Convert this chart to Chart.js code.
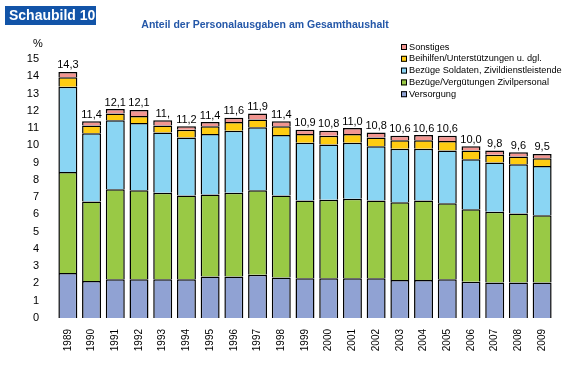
<!DOCTYPE html>
<html>
<head>
<meta charset="utf-8">
<script src="https://cdn.jsdelivr.net/npm/chart.js@4.4.1/dist/chart.umd.min.js"></script>
<style>
    body { margin: 0; background: #fff; }
</style>
</head>
<body>
<canvas id="personal_graph" width="579" height="367"></canvas>
<script>
const years = ['1989', '1990', '1991', '1992', '1993', '1994', '1995', '1996', '1997', '1998', '1999',
    '2000', '2001', '2002', '2003', '2004', '2005', '2006', '2007', '2008', '2009'];
const versorgung = [2.6, 2.15, 2.25, 2.25, 2.25, 2.25, 2.4, 2.4, 2.5, 2.35, 2.3, 2.3, 2.3, 2.3, 2.2, 2.2, 2.25, 2.1, 2.05, 2.05, 2.05];
const zivilpersonal = [5.85, 4.6, 5.2, 5.15, 5.0, 4.85, 4.75, 4.85, 4.9, 4.75, 4.5, 4.55, 4.6, 4.5, 4.5, 4.6, 4.4, 4.2, 4.1, 4.0, 3.9];
const soldaten = [4.95, 3.95, 4.0, 3.9, 3.5, 3.35, 3.5, 3.6, 3.65, 3.5, 3.35, 3.2, 3.25, 3.15, 3.1, 3.0, 3.05, 2.9, 2.85, 2.85, 2.85];
const beihilfen = [0.55, 0.45, 0.4, 0.4, 0.4, 0.45, 0.45, 0.5, 0.45, 0.5, 0.5, 0.5, 0.5, 0.5, 0.5, 0.5, 0.55, 0.5, 0.45, 0.45, 0.45];
const sonstiges = [0.3, 0.25, 0.25, 0.35, 0.3, 0.2, 0.25, 0.25, 0.35, 0.3, 0.25, 0.3, 0.35, 0.3, 0.25, 0.3, 0.3, 0.25, 0.25, 0.25, 0.25];
const totalLabels = ['14,3', '11,4', '12,1', '12,1', '11,', '11,2', '11,4', '11,6', '11,9', '11,4', '10,9',
    '10,8', '11,0', '10,8', '10,6', '10,6', '10,6', '10,0', '9,8', '9,6', '9,5'];

// headline, total labels and legend are drawn by hand
const decorations = {
    id: 'decorations',
    afterDraw: function (chart) {
        const ctx = chart.ctx;
        ctx.save();
        // Schaubild box
        ctx.fillStyle = '#1254a8';
        ctx.fillRect(5, 6, 91, 19);
        ctx.fillStyle = '#fff';
        ctx.font = 'bold 14px Arial';
        ctx.textAlign = 'left';
        ctx.textBaseline = 'middle';
        ctx.fillText('Schaubild 10', 9, 16);
        // chart title
        ctx.fillStyle = '#2457a8';
        ctx.font = 'bold 10.5px Arial';
        ctx.textAlign = 'center';
        ctx.fillText('Anteil der Personalausgaben am Gesamthaushalt', 265, 25);
        // unit
        ctx.fillStyle = '#000';
        ctx.font = '11px Arial';
        ctx.textAlign = 'left';
        ctx.fillText('%', 33, 44);
        // totals above the bars
        const topMeta = chart.getDatasetMeta(chart.data.datasets.length - 1);
        ctx.textAlign = 'center';
        ctx.textBaseline = 'bottom';
        topMeta.data.forEach(function (bar, i) {
            ctx.fillText(totalLabels[i], bar.x, bar.y - 1);
        });
        // legend, top entry is the top of the stack
        ctx.font = '9.2px Arial';
        ctx.textAlign = 'left';
        ctx.textBaseline = 'middle';
        const sets = chart.data.datasets.slice().reverse();
        sets.forEach(function (ds, i) {
            const y = 47 + i * 11.8;
            ctx.fillStyle = ds.backgroundColor;
            ctx.fillRect(401, y - 3, 6, 6);
            ctx.strokeStyle = '#000';
            ctx.lineWidth = 1;
            ctx.strokeRect(401.5, y - 2.5, 5, 5);
            ctx.fillStyle = '#000';
            ctx.fillText(ds.label, 409, y);
        });
        ctx.restore();
    }
};

const personalGraph = document.getElementById('personal_graph');
const barStyle = {
    borderColor: '#000',
    borderWidth: 1.5,
    barPercentage: 0.8,
    categoryPercentage: 1.0
};
new Chart(personalGraph, {
    type: 'bar',
    data: {
        labels: years,
        datasets: [
            Object.assign({ label: 'Versorgung', data: versorgung, backgroundColor: '#90a2d3' }, barStyle),
            Object.assign({ label: 'Bezüge/Vergütungen Zivilpersonal', data: zivilpersonal, backgroundColor: '#99c945' }, barStyle),
            Object.assign({ label: 'Bezüge Soldaten, Zivildienstleistende', data: soldaten, backgroundColor: '#8ad5f3' }, barStyle),
            Object.assign({ label: 'Beihilfen/Unterstützungen u. dgl.', data: beihilfen, backgroundColor: '#ffcc11' }, barStyle),
            Object.assign({ label: 'Sonstiges', data: sonstiges, backgroundColor: '#f29590' }, barStyle)
        ]
    },
    options: {
        responsive: false,
        animation: false,
        layout: {
            padding: { left: 0, right: 25, top: 59, bottom: 0 }
        },
        plugins: {
            legend: { display: false },
            tooltip: { enabled: false }
        },
        scales: {
            y: {
                stacked: true,
                min: 0,
                max: 15,
                afterFit: function (scale) {
                    scale.width = 56;
                },
                grid: { display: false },
                border: { display: false },
                ticks: {
                    stepSize: 1,
                    color: '#000',
                    padding: 9,
                    font: { family: 'Arial', size: 11 }
                }
            },
            x: {
                stacked: true,
                afterFit: function (scale) {
                    scale.height = 49;
                },
                grid: { display: false },
                border: { display: false },
                ticks: {
                    minRotation: 90,
                    maxRotation: 90,
                    color: '#000',
                    padding: 3,
                    font: { family: 'Arial', size: 10 }
                }
            }
        }
    },
    plugins: [decorations]
});
</script>
</body>
</html>
